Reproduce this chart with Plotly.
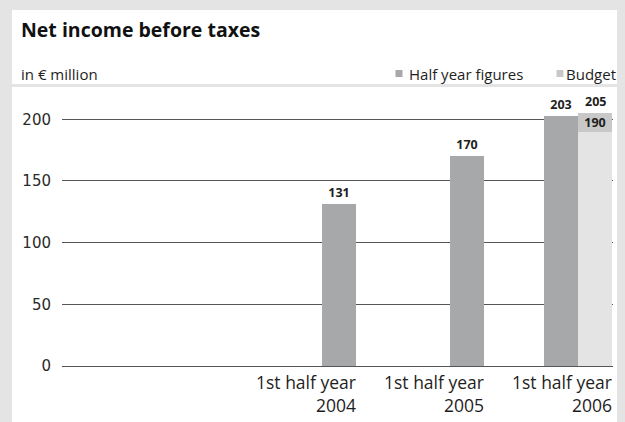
import plotly.graph_objects as go

# Net income before taxes, in EUR million
periods = ["2004", "2005", "2006"]
period_label = "1st half year"
half_year = [131, 170, 203]
budget_low = 190
budget_high = 205
y_ticks = [0, 50, 100, 150, 200]

BAR_DARK = "#a7a8a9"
BUDGET_LIGHT = "#e3e4e3"
BUDGET_MID = "#c7c8c7"
OUTER = "#e3e4e3"
GRID = "#555555"
TXT = "#1e1e1e"
FONT = "Open Sans"

W, H = 625, 422
ML, MR, MT, MB = 62, 12, 95, 56
PW, PH = W - ML - MR, H - MT - MB

SLOT_PX = 128.0          # one period per slot, bars flush with slot's right edge
x_right = 2.505
x_left = x_right - PW / SLOT_PX
y_max = 219.7
bw = 0.268               # bar width in slot units

slot_end = [i + 0.5 for i in range(len(periods))]
# last period carries the budget bar on its right, actual bar shifted left
offsets = [-bw] * (len(periods) - 1) + [-2 * bw]


def px_x(px):
    return (px - ML) / PW


def px_y(py):
    return (H - MB - py) / PH


fig = go.Figure()

fig.add_trace(go.Bar(
    x=slot_end, y=half_year, width=bw, offset=offsets,
    marker=dict(color=BAR_DARK, line=dict(width=0)),
    text=[str(v) for v in half_year], textposition="outside",
    textfont=dict(family=FONT, size=12.5, color=TXT, weight="bold"),
    constraintext="none", cliponaxis=False, showlegend=False,
    name="Half year figures",
))

fig.add_trace(go.Bar(
    x=[slot_end[-1]], y=[budget_low], width=bw, offset=-bw,
    marker=dict(color=BUDGET_LIGHT, line=dict(width=0)),
    showlegend=False, name="Budget",
))

fig.add_trace(go.Bar(
    x=[slot_end[-1]], y=[budget_high - budget_low], base=[budget_low],
    width=bw, offset=-bw,
    marker=dict(color=BUDGET_MID, line=dict(width=0)),
    text=[str(budget_low)], textposition="inside", insidetextanchor="middle",
    insidetextfont=dict(family=FONT, size=12.5, color=TXT, weight="bold"),
    constraintext="none", cliponaxis=False, showlegend=False,
    name="Budget range",
))

annotations = []

# upper budget value above the range box
annotations.append(dict(
    x=slot_end[-1] - bw / 2, y=budget_high, xref="x", yref="y",
    text="<b>%d</b>" % budget_high, showarrow=False,
    xanchor="center", yanchor="bottom", yshift=1,
    font=dict(family=FONT, size=12.5, color=TXT),
))

# category labels, right aligned to each slot
for p, xe in zip(periods, slot_end):
    annotations.append(dict(
        x=xe, y=px_y(368), xref="x", yref="paper",
        text=f"{period_label}<br>{p}", showarrow=False,
        xanchor="right", yanchor="top", align="right", xshift=2,
        font=dict(family=FONT, size=17.5, color=TXT),
    ))

annotations += [
    dict(x=px_x(19), y=px_y(30), xref="paper", yref="paper",
         text="<b>Net income before taxes</b>", showarrow=False,
         xanchor="left", yanchor="middle",
         font=dict(family=FONT, size=19.5, color="#111111")),
    dict(x=px_x(19), y=px_y(73.5), xref="paper", yref="paper",
         text="in € million", showarrow=False,
         xanchor="left", yanchor="middle",
         font=dict(family=FONT, size=15, color=TXT)),
    dict(x=px_x(407), y=px_y(73.5), xref="paper", yref="paper",
         text="Half year figures", showarrow=False,
         xanchor="left", yanchor="middle",
         font=dict(family=FONT, size=15, color=TXT)),
    dict(x=px_x(564), y=px_y(73.5), xref="paper", yref="paper",
         text="Budget", showarrow=False,
         xanchor="left", yanchor="middle",
         font=dict(family=FONT, size=15, color=TXT)),
]

shapes = [
    # white card
    dict(type="rect", xref="paper", yref="paper", layer="below",
         x0=px_x(12), x1=px_x(617), y0=px_y(430), y1=px_y(10),
         fillcolor="white", line=dict(width=0)),
    # separator under the header
    dict(type="line", xref="paper", yref="paper", layer="below",
         x0=px_x(12), x1=px_x(617), y0=px_y(85.5), y1=px_y(85.5),
         line=dict(color=OUTER, width=3)),
    # legend swatches
    dict(type="rect", xref="paper", yref="paper",
         x0=px_x(395.5), x1=px_x(402.5), y0=px_y(77), y1=px_y(70),
         fillcolor=BAR_DARK, line=dict(width=0)),
    dict(type="rect", xref="paper", yref="paper",
         x0=px_x(556.5), x1=px_x(563.5), y0=px_y(77), y1=px_y(70),
         fillcolor=BUDGET_MID, line=dict(width=0)),
]

fig.update_layout(
    width=W, height=H,
    margin=dict(l=ML, r=MR, t=MT, b=MB, pad=0),
    paper_bgcolor=OUTER, plot_bgcolor="rgba(0,0,0,0)",
    barmode="overlay", bargap=0,
    showlegend=False,
    annotations=annotations, shapes=shapes,
    font=dict(family=FONT, color=TXT),
)

fig.update_xaxes(
    range=[x_left, x_right], showgrid=False, zeroline=False,
    showticklabels=False, ticks="", showline=True,
    linecolor=GRID, linewidth=1, fixedrange=True,
)

fig.update_yaxes(
    range=[0, y_max], tickvals=y_ticks, showgrid=True,
    gridcolor=GRID, gridwidth=1, zeroline=False, showline=False,
    ticks="", ticklabelstandoff=10,
    tickfont=dict(family="DejaVu Sans", size=15, color="#2a2a2a"),
    fixedrange=True,
)

fig.write_html("out.html", config=dict(displayModeBar=False))
